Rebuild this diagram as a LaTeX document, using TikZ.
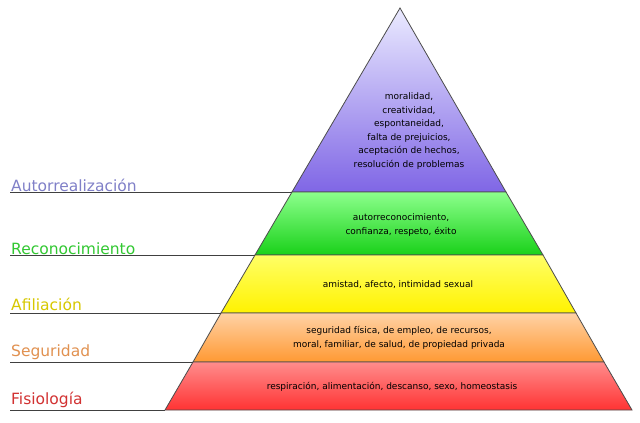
\documentclass[tikz,border=0pt]{standalone}
\usepackage{fontspec}
\setmainfont{DejaVu Sans}
\begin{document}
\begin{tikzpicture}[x=1pt,y=-1pt,
  band/.style={draw=black!70,line width=0.8pt},
  lbl/.style={anchor=south west,inner sep=1pt,font=\fontsize{15.5}{15}\selectfont},
  txt/.style={align=center,font=\fontsize{9}{13.5}\selectfont,inner sep=0pt},
  rule/.style={draw=black!75,line width=0.8pt}]
\useasboundingbox (0,0) rectangle (640,423);
\fill[white] (0,0) rectangle (640,423);
\shade[band,top color=blue!8,bottom color=blue!50!white!80!violet] (400,8) -- (506,192) -- (292,192) -- cycle;
\shade[band,top color=green!45!white,bottom color=green!80!black!90] (292,192) -- (506,192) -- (543,255) -- (255,255) -- cycle;
\shade[band,top color=yellow!60!white,bottom color=yellow!90!orange] (255,255) -- (543,255) -- (576,313) -- (221,313) -- cycle;
\shade[band,top color=orange!35!white,bottom color=orange!80] (221,313) -- (576,313) -- (604,362) -- (193,362) -- cycle;
\shade[band,top color=red!45!white,bottom color=red!80] (193,362) -- (604,362) -- (632,410) -- (165,410) -- cycle;
\coordinate (a1) at (10,192); \coordinate (b1) at (292,192);
\coordinate (a2) at (10,255); \coordinate (b2) at (255,255);
\coordinate (a3) at (10,313); \coordinate (b3) at (221,313);
\coordinate (a4) at (10,362); \coordinate (b4) at (193,362);
\coordinate (a5) at (10,410); \coordinate (b5) at (165,410);
\draw[rule] (a1)--(b1); \draw[rule] (a2)--(b2); \draw[rule] (a3)--(b3);
\draw[rule] (a4)--(b4); \draw[rule] (a5)--(b5);
\node[lbl,text={rgb,255:red,128;green,128;blue,200}] (l1) at (10,193) {Autorrealización};
\node[lbl,text={rgb,255:red,50;green,200;blue,50}] (l2) at (10,256) {Reconocimiento};
\node[lbl,text={rgb,255:red,215;green,200;blue,0}] (l3) at (10,312) {Afiliación};
\node[lbl,text={rgb,255:red,225;green,145;blue,80}] (l4) at (10,361) {Seguridad};
\node[lbl,text={rgb,255:red,210;green,50;blue,50}] (l5) at (10,409) {Fisiología};
\node[txt] (t1) at (409,131) {moralidad,\\creatividad,\\espontaneidad,\\falta de prejuicios,\\aceptación de hechos,\\resolución de problemas};
\node[txt] (t2) at (401,225) {autorreconocimiento,\\confianza, respeto, éxito};
\node[txt] (t3) at (398,285) {amistad, afecto, intimidad sexual};
\node[txt] (t4) at (399,338) {seguridad física, de empleo, de recursos,\\moral, familiar, de salud, de propiedad privada};
\node[txt] (t5) at (392,387) {respiración, alimentación, descanso, sexo, homeostasis};
\end{tikzpicture}
\end{document}
